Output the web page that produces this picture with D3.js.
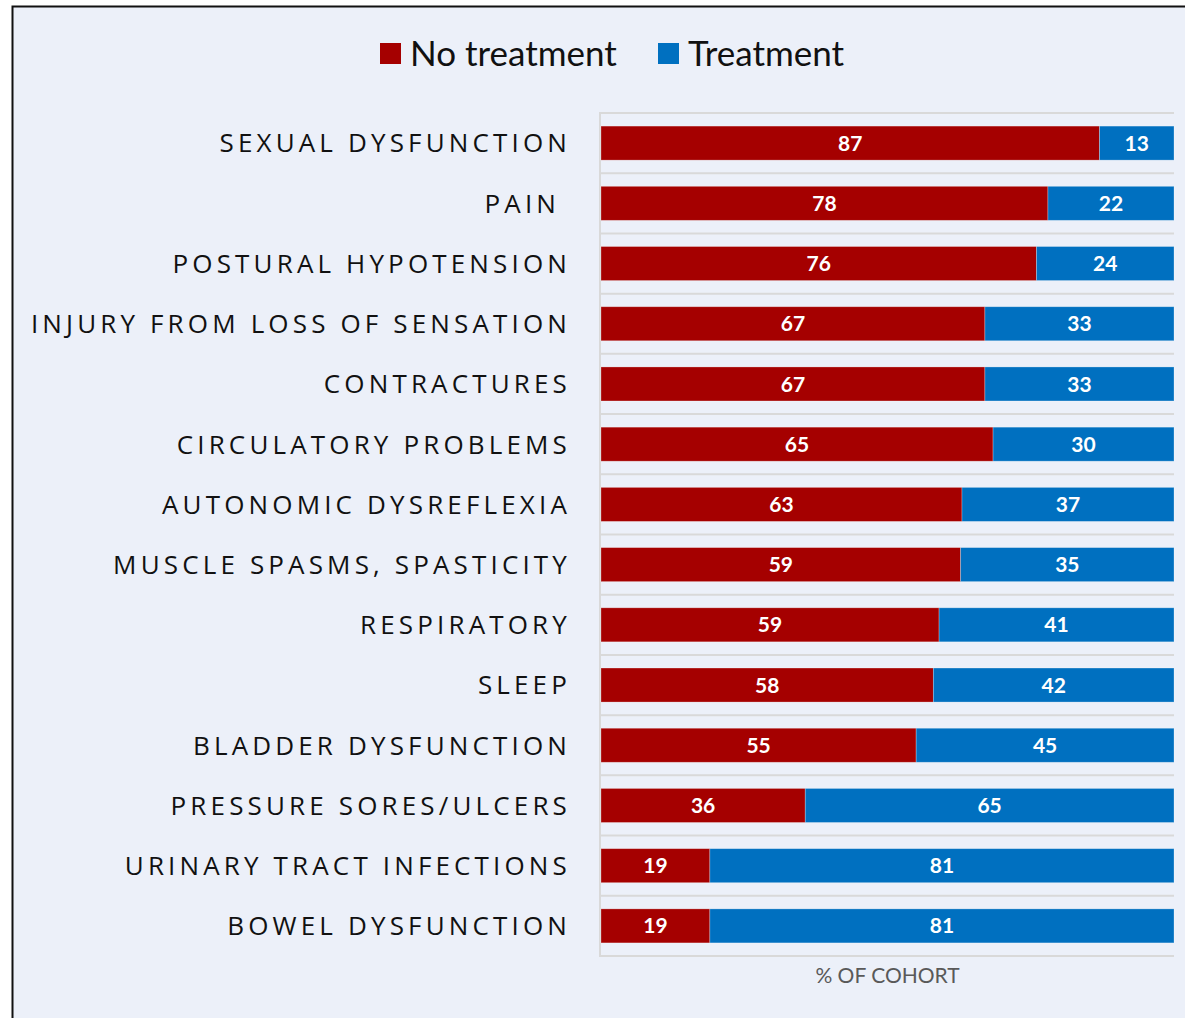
<!DOCTYPE html>
<html>
<head>
<meta charset="utf-8">
<script src="https://cdn.jsdelivr.net/npm/d3@7"></script>
<style>
  html, body { margin: 0; padding: 0; background: #ffffff; }
  svg { display: block; }
</style>
</head>
<body>
<svg id="chart" width="1185" height="1018"></svg>
<script>
// Complications, share of cohort receiving no treatment vs. treatment
const categories = [
  "SEXUAL DYSFUNCTION",
  "PAIN ",
  "POSTURAL HYPOTENSION",
  "INJURY FROM LOSS OF SENSATION",
  "CONTRACTURES",
  "CIRCULATORY PROBLEMS",
  "AUTONOMIC DYSREFLEXIA",
  "MUSCLE SPASMS, SPASTICITY",
  "RESPIRATORY",
  "SLEEP",
  "BLADDER DYSFUNCTION",
  "PRESSURE SORES/ULCERS",
  "URINARY TRACT INFECTIONS",
  "BOWEL DYSFUNCTION"
];
const noTreatment = [87, 78, 76, 67, 67, 65, 63, 59, 59, 58, 55, 36, 19, 19];
const treatment   = [13, 22, 24, 33, 33, 30, 37, 35, 41, 42, 45, 65, 81, 81];
const seriesNames = ["No treatment", "Treatment"];
const seriesColors = ["#A50000", "#0070C0"];
const axisTitle = "% OF COHORT";

const svg = d3.select("#chart");

// Panel
svg.append("rect")
  .attr("x", 12.5).attr("y", 6.5)
  .attr("width", 1200).attr("height", 1050)
  .attr("fill", "#ECF0F9")
  .attr("stroke", "#111").attr("stroke-width", 2);

const margin = { left: 601, right: 11, top: 113, bottom: 62 };
const W = 1185, H = 1018;

const rows = categories.map((c, i) => {
  const total = noTreatment[i] + treatment[i];
  return {
    cat: c,
    vals: [noTreatment[i], treatment[i]],
    total: total
  };
});

// 100% stacked: each row is scaled to its own total
const x = d3.scaleLinear().domain([0, 1]).range([margin.left, W - margin.right]);
const y = d3.scaleBand().domain(categories)
  .range([margin.top, H - margin.bottom])
  .paddingInner(0.435).paddingOuter(0.2175);

// Horizontal gridlines between categories
const step = y.step();
const gridYs = d3.range(categories.length + 1).map(i => margin.top + i * step);
svg.append("g").selectAll("line").data(gridYs).join("line")
  .attr("x1", margin.left).attr("x2", W - margin.right)
  .attr("y1", d => d).attr("y2", d => d)
  .attr("stroke", "#D9D9D9").attr("stroke-width", 2);

// Left axis line
svg.append("line")
  .attr("x1", margin.left - 1).attr("x2", margin.left - 1)
  .attr("y1", margin.top - 1).attr("y2", H - margin.bottom + 1)
  .attr("stroke", "#D9D9D9").attr("stroke-width", 2);

// Stacked segments
const segs = [];
rows.forEach(r => {
  let acc = 0;
  r.vals.forEach((v, k) => {
    segs.push({ cat: r.cat, k, v, x0: acc / r.total, x1: (acc + v) / r.total });
    acc += v;
  });
});

const gBars = svg.append("g");
gBars.selectAll("rect").data(segs).join("rect")
  .attr("x", d => x(d.x0))
  .attr("width", d => x(d.x1) - x(d.x0))
  .attr("y", d => y(d.cat))
  .attr("height", y.bandwidth())
  .attr("fill", d => seriesColors[d.k])
  .attr("stroke", "rgba(255,255,255,0.35)")
  .attr("stroke-width", 0.75);

gBars.selectAll("text").data(segs).join("text")
  .attr("x", d => (x(d.x0) + x(d.x1)) / 2)
  .attr("y", d => y(d.cat) + y.bandwidth() / 2)
  .attr("dy", "0.36em")
  .attr("text-anchor", "middle")
  .attr("fill", "#ffffff")
  .attr("font-family", "Lato, 'Open Sans', sans-serif")
  .attr("font-weight", 700)
  .attr("font-size", 21)
  .text(d => d.v);

// Category labels
const yAxis = d3.axisLeft(y).tickSize(0).tickPadding(0);
const gY = svg.append("g")
  .attr("transform", `translate(${margin.left - 30},0)`)
  .call(yAxis);
gY.select(".domain").remove();
gY.selectAll("text")
  .attr("fill", "#111")
  .attr("font-family", "'Open Sans', sans-serif")
  .attr("font-size", 26)
  .attr("letter-spacing", "4.15px")
  .style("white-space", "pre")
  .attr("dy", "0.36em");

// Axis title
svg.append("text")
  .attr("x", (margin.left + W - margin.right) / 2)
  .attr("y", 983)
  .attr("text-anchor", "middle")
  .attr("fill", "#595959")
  .attr("font-family", "Lato, 'Open Sans', sans-serif")
  .attr("font-size", 21)
  .text(axisTitle);

// Legend
const legend = svg.append("g").attr("transform", "translate(380,43)");
const legendX = [0, 278];
seriesNames.forEach((name, k) => {
  const g = legend.append("g").attr("transform", `translate(${legendX[k]},0)`);
  g.append("rect").attr("width", 21).attr("height", 21).attr("fill", seriesColors[k]);
  g.append("text")
    .attr("x", 30).attr("y", 10.5).attr("dy", "0.36em")
    .attr("fill", "#111")
    .attr("font-family", "Lato, 'Open Sans', sans-serif")
    .attr("font-size", 35)
    .text(name);
});
</script>
</body>
</html>
